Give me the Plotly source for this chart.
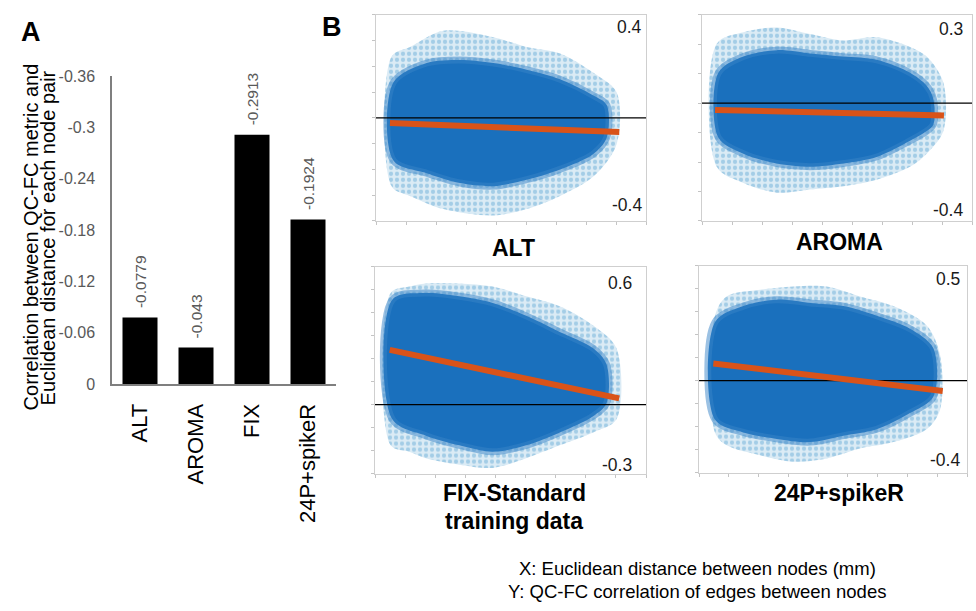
import plotly.graph_objects as go

W, H = 976, 611
FONT = "Liberation Sans, Arial, sans-serif"

# ---------------- Panel A data ----------------
methods = ["ALT", "AROMA", "FIX", "24P+spikeR"]
corr_values = [-0.0779, -0.043, -0.2913, -0.1924]
corr_labels = ["-0.0779", "-0.043", "-0.2913", "-0.1924"]
a_tick_vals = [0, -0.06, -0.12, -0.18, -0.24, -0.3, -0.36]
a_tick_text = ["0", "-0.06", "-0.12", "-0.18", "-0.24", "-0.3", "-0.36"]

# ---------------- Panel B data ----------------
panel_titles = ["ALT", "AROMA", "FIX-Standard<br>training data", "24P+spikeR"]
y_limits = [(-0.4, 0.4), (-0.4, 0.3), (-0.3, 0.6), (-0.4, 0.5)]
x_limits = (0, 180)

# outer (sparse fringe) envelope and dense core envelope of each cloud
alt_outer_x = [10.4, 22.7, 44.9, 78.2, 100.4, 122.7, 144.9, 160.4]
alt_outer_hi = [0.238, 0.275, 0.338, 0.313, 0.275, 0.25, 0.175, 0.099]
alt_outer_lo = [-0.265, -0.303, -0.354, -0.379, -0.354, -0.303, -0.228, -0.102]
alt_core_x = [11.5, 33.8, 56.0, 78.2, 100.4, 122.7, 144.9, 153.8]
alt_core_hi = [0.137, 0.213, 0.225, 0.213, 0.187, 0.15, 0.087, 0.05]
alt_core_lo = [-0.165, -0.215, -0.253, -0.265, -0.24, -0.2, -0.14, -0.077]
alt_fit_x = [9.3, 162.2]
alt_fit_y = [-0.020, -0.055]

aroma_outer_x = [9.8, 27.6, 49.8, 72.0, 94.2, 116.4, 138.7, 149.8, 160.9]
aroma_outer_hi = [0.202, 0.241, 0.257, 0.235, 0.213, 0.224, 0.191, 0.158, 0.07]
aroma_outer_lo = [-0.216, -0.271, -0.304, -0.293, -0.282, -0.26, -0.216, -0.172, -0.095]
aroma_core_x = [10.9, 27.6, 49.8, 72.0, 94.2, 116.4, 138.7, 149.8, 154.2]
aroma_core_hi = [0.103, 0.158, 0.18, 0.169, 0.158, 0.147, 0.103, 0.059, 0.015]
aroma_core_lo = [-0.117, -0.172, -0.205, -0.216, -0.205, -0.183, -0.128, -0.095, -0.073]
aroma_fit_x = [8.7, 161.3]
aroma_fit_y = [-0.023, -0.042]

fix_outer_x = [10.4, 22.7, 33.8, 56.0, 78.2, 100.4, 122.7, 144.9, 160.4]
fix_outer_hi = [0.485, 0.513, 0.527, 0.527, 0.513, 0.471, 0.428, 0.344, 0.245]
fix_outer_lo = [-0.177, -0.205, -0.233, -0.261, -0.275, -0.233, -0.177, -0.121, -0.064]
fix_core_x = [11.5, 33.8, 56.0, 78.2, 100.4, 122.7, 144.9, 153.8]
fix_core_hi = [0.456, 0.485, 0.471, 0.442, 0.386, 0.316, 0.245, 0.175]
fix_core_lo = [-0.064, -0.135, -0.177, -0.205, -0.177, -0.121, -0.05, 0.006]
fix_fit_x = [9.8, 162.2]
fix_fit_y = [0.238, 0.027]

p24_outer_x = [10.7, 18.6, 41.0, 63.4, 85.8, 108.1, 130.5, 152.9, 161.9]
p24_outer_hi = [0.282, 0.366, 0.395, 0.409, 0.409, 0.366, 0.324, 0.24, 0.113]
p24_outer_lo = [-0.225, -0.281, -0.324, -0.352, -0.338, -0.295, -0.267, -0.211, -0.126]
p24_core_x = [10.7, 29.8, 52.2, 74.6, 97.0, 119.3, 141.7, 157.4]
p24_core_hi = [0.254, 0.324, 0.352, 0.338, 0.324, 0.282, 0.226, 0.141]
p24_core_lo = [-0.169, -0.225, -0.253, -0.267, -0.239, -0.211, -0.141, -0.07]
p24_fit_x = [9.6, 163.7]
p24_fit_y = [0.075, -0.045]

clouds = [
    (alt_outer_x, alt_outer_hi, alt_outer_lo, alt_core_x, alt_core_hi, alt_core_lo, alt_fit_x, alt_fit_y),
    (aroma_outer_x, aroma_outer_hi, aroma_outer_lo, aroma_core_x, aroma_core_hi, aroma_core_lo, aroma_fit_x, aroma_fit_y),
    (fix_outer_x, fix_outer_hi, fix_outer_lo, fix_core_x, fix_core_hi, fix_core_lo, fix_fit_x, fix_fit_y),
    (p24_outer_x, p24_outer_hi, p24_outer_lo, p24_core_x, p24_core_hi, p24_core_lo, p24_fit_x, p24_fit_y),
]

# ---------------- layout geometry (pixels) ----------------
def px(x):
    return x / W

def py(y):
    return 1 - y / H

frames = [(376, 646, 7, 219), (702, 972, 7, 219), (375, 646, 266, 479), (699, 967, 265, 478)]
corner_pos = [(-2, 0.939, 0.075), (-7, 0.929, 0.052), (-12, 0.92, 0.042), (-5, 0.934, 0.061)]
title_pos = [(513, [247]), (839, [241]), (514, [499, 528]), (839, [499])]

fig = go.Figure()

# ---- Panel A bars ----
fig.add_trace(go.Bar(
    x=methods, y=corr_values, marker=dict(color="black", line=dict(width=0)),
    width=0.625, xaxis="x", yaxis="y", showlegend=False, hoverinfo="skip"))

annotations = []
for m, v, t in zip(methods, corr_values, corr_labels):
    annotations.append(dict(
        x=m, y=v, xref="x", yref="y", text=t, showarrow=False, textangle=-90,
        yanchor="bottom", xanchor="center", yshift=7,
        font=dict(family=FONT, size=15.5, color="#595959")))

# ---- Panel B clouds ----
blue = "0,114,189"
for i, (ox, ohi, olo, cx, chi, clo, fx, fy) in enumerate(clouds):
    xa = "x%d" % (i + 2)
    ya = "y%d" % (i + 2)
    # sparse fringe: dotted pattern
    fig.add_trace(go.Scatter(
        x=ox + ox[::-1] + [ox[0]], y=ohi + olo[::-1] + [ohi[0]],
        mode="lines", fill="toself", fillcolor="rgba(%s,0.15)" % blue,
        fillpattern=dict(shape=".", fgcolor="rgba(%s,0.5)" % blue,
                         bgcolor="rgba(%s,0.14)" % blue, size=6, solidity=0.4),
        line=dict(color="rgba(%s,0.0)" % blue, width=0, shape="spline", smoothing=0.9),
        xaxis=xa, yaxis=ya, showlegend=False, hoverinfo="skip"))
    # dense core with a softer edge
    fig.add_trace(go.Scatter(
        x=cx + cx[::-1] + [cx[0]], y=chi + clo[::-1] + [chi[0]],
        mode="lines", fill="toself", fillcolor="rgb(26,112,189)",
        line=dict(color="rgba(55,132,200,0.5)", width=7, shape="spline", smoothing=0.9),
        xaxis=xa, yaxis=ya, showlegend=False, hoverinfo="skip"))
    # zero reference line
    fig.add_trace(go.Scatter(
        x=list(x_limits), y=[0, 0], mode="lines", line=dict(color="black", width=1.2),
        xaxis=xa, yaxis=ya, showlegend=False, hoverinfo="skip"))
    # fitted line
    fig.add_trace(go.Scatter(
        x=fx, y=fy, mode="lines", line=dict(color="rgb(217,83,25)", width=6),
        xaxis=xa, yaxis=ya, showlegend=False, hoverinfo="skip"))

    lo, hi = y_limits[i]
    xs, ftop, fbot = corner_pos[i]
    for val, frac in ((hi, ftop), (lo, fbot)):
        annotations.append(dict(
            x=1, y=frac, xref=xa + " domain", yref=ya + " domain", text=("%g" % val),
            showarrow=False, xanchor="right", yanchor="middle", xshift=xs,
            font=dict(family=FONT, size=17.5, color="#1a1a1a")))
    tx, tys = title_pos[i]
    for line, ty in zip(panel_titles[i].split("<br>"), tys):
        annotations.append(dict(
            x=px(tx), y=py(ty), xref="paper", yref="paper", text="<b>%s</b>" % line,
            showarrow=False, xanchor="center", yanchor="middle",
            font=dict(family=FONT, size=23, color="black")))

# ---- general text ----
def paper_text(x, y, text, size, angle=0):
    return dict(x=px(x), y=py(y), xref="paper", yref="paper", text=text, showarrow=False,
                xanchor="center", yanchor="middle", textangle=angle,
                font=dict(family=FONT, size=size, color="black"))

annotations += [
    paper_text(31, 25, "<b>A</b>", 27),
    paper_text(332, 20, "<b>B</b>", 27),
    paper_text(31, 236, "Correlation between QC-FC metric and", 20, -90),
    paper_text(48, 237, "Euclidean distance for each node pair", 20, -90),
    paper_text(697, 577, "X: Euclidean distance between nodes (mm)", 18.5),
    paper_text(697, 600, "Y: QC-FC correlation of edges between nodes", 18.5),
]

layout = dict(
    width=W, height=H, margin=dict(l=0, r=0, t=0, b=0),
    paper_bgcolor="white", plot_bgcolor="white",
    font=dict(family=FONT),
    annotations=annotations,
    xaxis=dict(domain=[px(112), px(336)], showline=True, linecolor="#7f7f7f", linewidth=1.5,
               ticks="", tickangle=-90, ticklabelstandoff=9,
               tickfont=dict(family=FONT, size=22, color="black"), fixedrange=True),
    yaxis=dict(domain=[py(387), py(70)], range=[0, -0.36], showline=True, linecolor="#7f7f7f",
               linewidth=1.5, showgrid=False, zeroline=False, tickvals=a_tick_vals,
               ticktext=a_tick_text, ticks="", ticklabelstandoff=12,
               tickfont=dict(family=FONT, size=16, color="#595959")),
)

for i, (l, r, t, b) in enumerate(frames):
    n = i + 2
    lo, hi = y_limits[i]
    layout["xaxis%d" % n] = dict(
        domain=[px(l), px(r)], range=list(x_limits), anchor="y%d" % n,
        showline=True, mirror=True, linecolor="#cfcfcf", linewidth=1, showgrid=False,
        zeroline=False, showticklabels=False, ticks="outside", ticklen=3,
        tickcolor="#c4c4c4", dtick=20, tick0=0)
    layout["yaxis%d" % n] = dict(
        domain=[py(b), py(t)], range=[lo, hi], anchor="x%d" % n,
        showline=True, mirror=True, linecolor="#cfcfcf", linewidth=1, showgrid=False,
        zeroline=False, showticklabels=False, ticks="outside", ticklen=3,
        tickcolor="#c4c4c4", dtick=0.1, tick0=0)

fig.update_layout(**layout)
fig.write_html("out.html", config={"displayModeBar": False},
               post_script="document.body.style.margin='0';")
